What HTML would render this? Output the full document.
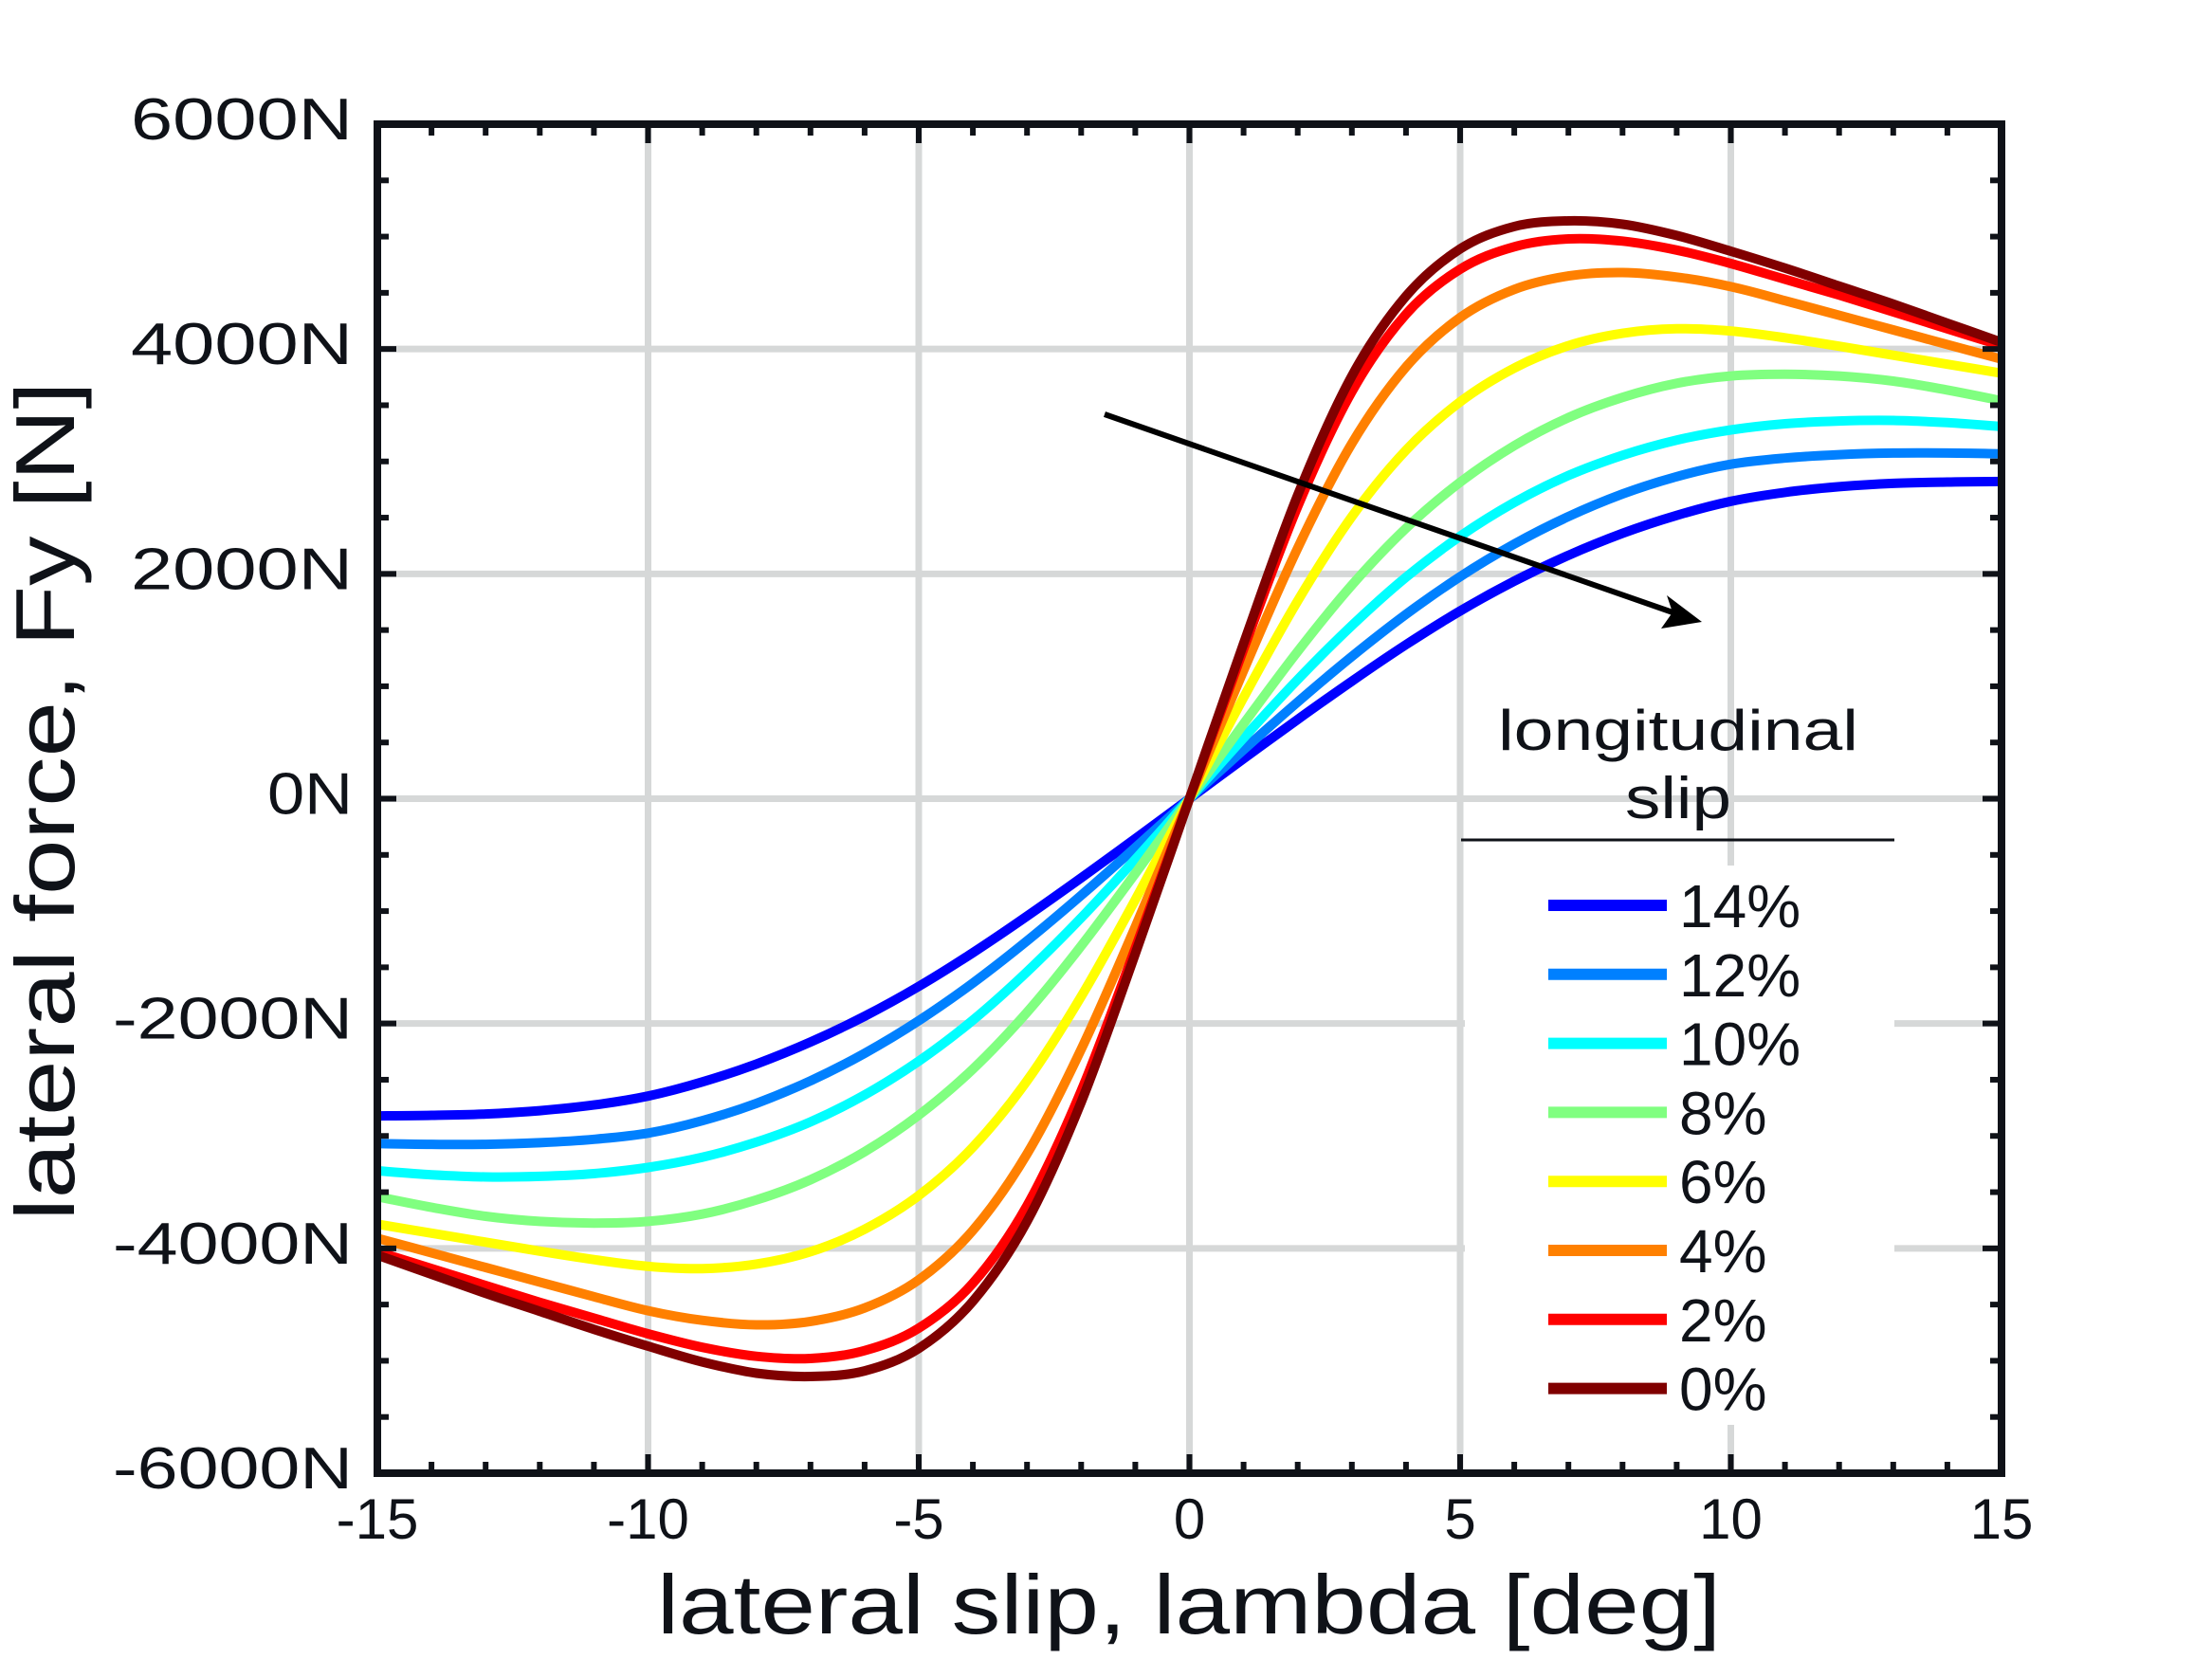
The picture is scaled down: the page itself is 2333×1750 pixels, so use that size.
<!DOCTYPE html>
<html><head><meta charset="utf-8"><style>
html,body{margin:0;padding:0;background:#fff;}
svg{display:block;font-family:"Liberation Sans",sans-serif;}
</style></head><body>
<svg id="chart" width="2333" height="1750" viewBox="0 0 2333 1750" xmlns="http://www.w3.org/2000/svg">
<rect x="0" y="0" width="2333" height="1750" fill="#fff"/>
<g id="grid"></g>
<g id="series"></g>
<g id="axes"></g>
<g id="legend"></g>
<line x1="1165" y1="437" x2="1770" y2="648" stroke="#000" stroke-width="6"/>
<polygon points="1795,656 1758,628 1764,646 1752,663" fill="#000"/>
<text x="1254" y="1723" font-size="88" fill="#0f1218" text-anchor="middle" textLength="1122" lengthAdjust="spacingAndGlyphs">lateral slip, lambda [deg]</text>
<text transform="translate(78,845) rotate(-90)" font-size="88" fill="#0f1218" text-anchor="middle" textLength="885" lengthAdjust="spacingAndGlyphs">lateral force, Fy [N]</text>
</svg>
<script>
const xValues = [-15,-14,-13,-12,-11,-10,-9,-8,-7,-6,-5,-4,-3,-2,-1,0,1,2,3,4,5,6,7,8,9,10,11,12,13,14,15];
const s14 = [-2822,-2817,-2805,-2775,-2725,-2645,-2520,-2360,-2165,-1935,-1670,-1370,-1045,-705,-355,0,355,705,1045,1370,1670,1935,2165,2360,2520,2645,2725,2775,2805,2817,2822];
const s12 = [-3067,-3075,-3075,-3060,-3030,-2975,-2865,-2710,-2510,-2265,-1975,-1640,-1265,-860,-435,0,435,860,1265,1640,1975,2265,2510,2710,2865,2975,3030,3060,3075,3075,3067];
const s10 = [-3310,-3345,-3365,-3360,-3335,-3280,-3190,-3055,-2875,-2635,-2335,-1970,-1540,-1060,-540,0,540,1060,1540,1970,2335,2635,2875,3055,3190,3280,3335,3360,3365,3345,3310];
const s8 = [-3540,-3635,-3715,-3760,-3775,-3760,-3695,-3570,-3390,-3140,-2815,-2405,-1900,-1310,-665,0,665,1310,1900,2405,2815,3140,3390,3570,3695,3760,3775,3760,3715,3635,3540];
const s6 = [-3785,-3865,-3945,-4025,-4100,-4160,-4180,-4140,-4030,-3830,-3530,-3100,-2510,-1760,-900,0,900,1760,2510,3100,3530,3830,4030,4140,4180,4160,4100,4025,3945,3865,3785];
const s4 = [-3910,-4040,-4170,-4300,-4430,-4555,-4640,-4680,-4650,-4530,-4280,-3840,-3160,-2230,-1140,0,1140,2230,3160,3840,4280,4530,4650,4680,4640,4555,4430,4300,4170,4040,3910];
const s2 = [-4030,-4180,-4330,-4480,-4620,-4760,-4880,-4960,-4980,-4910,-4710,-4310,-3620,-2600,-1330,0,1330,2600,3620,4310,4710,4910,4980,4960,4880,4760,4620,4480,4330,4180,4030];
const s0 = [-4060,-4230,-4400,-4560,-4720,-4870,-5010,-5110,-5140,-5090,-4890,-4470,-3760,-2700,-1380,0,1380,2700,3760,4470,4890,5090,5140,5110,5010,4870,4720,4560,4400,4230,4060];
const seriesLabels = ["14%","12%","10%","8%","6%","4%","2%","0%"];
const seriesColors = ["#0000ff","#0080ff","#00ffff","#80ff80","#ffff00","#ff8000","#ff0000","#800000"];
const xTicks = [-15,-10,-5,0,5,10,15];
const xTickLabels = ["-15","-10","-5","0","5","10","15"];
const yTicks = [-6000,-4000,-2000,0,2000,4000,6000];
const yTickLabels = ["-6000N","-4000N","-2000N","0N","2000N","4000N","6000N"];

const NS="http://www.w3.org/2000/svg";
const L=398,R=2111,T=131,B=1554;
const X0=-15,X1=15,Y0=-6000,Y1=6000;
function sx(v){return L+(v-X0)/(X1-X0)*(R-L);}
function sy(v){return B-(v-Y0)/(Y1-Y0)*(B-T);}
function mk(tag,attrs,parent){const e=document.createElementNS(NS,tag);for(const k in attrs)e.setAttribute(k,attrs[k]);parent.appendChild(e);return e;}

const grid=document.getElementById('grid');
xTicks.forEach(v=>{ if(v===X0||v===X1)return;
  const g=mk('line',{x1:sx(v),x2:sx(v),y1:T,y2:B,stroke:'#d6d8d8','stroke-width':7},grid);
  
  
});
yTicks.forEach(v=>{ if(v===Y0||v===Y1)return;
  const g=mk('line',{x1:L,x2:R,y1:sy(v),y2:sy(v),stroke:'#d6d8d8','stroke-width':7},grid);
  
  
});

const sg=document.getElementById('series');
const allSeries=[s14,s12,s10,s8,s6,s4,s2,s0];
allSeries.forEach((s,i)=>{
  const p=xValues.map((x,j)=>[sx(x),sy(s[j])]);
  let d='M'+p[0][0].toFixed(1)+','+p[0][1].toFixed(1);
  for(let j=0;j<p.length-1;j++){
    const p0=p[Math.max(0,j-1)],p1=p[j],p2=p[j+1],p3=p[Math.min(p.length-1,j+2)];
    const c1=[p1[0]+(p2[0]-p0[0])/6,p1[1]+(p2[1]-p0[1])/6];
    const c2=[p2[0]-(p3[0]-p1[0])/6,p2[1]-(p3[1]-p1[1])/6];
    d+=' C'+c1[0].toFixed(1)+','+c1[1].toFixed(1)+' '+c2[0].toFixed(1)+','+c2[1].toFixed(1)+' '+p2[0].toFixed(1)+','+p2[1].toFixed(1);
  }
  const path=mk('path',{d:d,fill:'none',stroke:seriesColors[i],'stroke-width':10,'stroke-linejoin':'round'},sg);
  
  
});

const ax=document.getElementById('axes');
for(let v=X0;v<=X1;v++){
  const major=v%5===0; const len=major?20:12;
  const t1=mk('line',{x1:sx(v),x2:sx(v),y1:B,y2:B-len,stroke:'#0f1218','stroke-width':6},ax);
  
  
  const t2=mk('line',{x1:sx(v),x2:sx(v),y1:T,y2:T+len,stroke:'#0f1218','stroke-width':6},ax);
  
  
}
for(let v=Y0;v<=Y1;v+=500){
  const major=v%2000===0; const len=major?20:12;
  const t1=mk('line',{x1:L,x2:L+len,y1:sy(v),y2:sy(v),stroke:'#0f1218','stroke-width':6},ax);
  
  
  const t2=mk('line',{x1:R,x2:R-len,y1:sy(v),y2:sy(v),stroke:'#0f1218','stroke-width':6},ax);
  
  
}
const frame=mk('rect',{x:L,y:T,width:R-L,height:B-T,fill:'none',stroke:'#0f1218','stroke-width':8},ax);


xTicks.forEach((v,i)=>{
  const t=mk('text',{x:sx(v),y:1623,'font-size':60,fill:'#0f1218','text-anchor':'middle'},ax);
  t.textContent=xTickLabels[i];
  
  
});
yTicks.forEach((v,i)=>{
  const lab=yTickLabels[i];
  const w=lab.startsWith('-')?253:(lab.length===2?90:234);
  const t=mk('text',{x:372,y:sy(v)+16,'font-size':62,fill:'#0f1218','text-anchor':'end',textLength:w,lengthAdjust:'spacingAndGlyphs'},ax);
  t.textContent=lab;
  
  
});

const lg=document.getElementById('legend');
const bx=mk('rect',{x:1545,y:913,width:453,height:590,fill:'#fff'},lg);


const lt1=mk('text',{x:1770,y:791,'font-size':60,fill:'#0f1218','text-anchor':'middle',textLength:380,lengthAdjust:'spacingAndGlyphs'},lg);
lt1.textContent='longitudinal';


const lt2=mk('text',{x:1770,y:863,'font-size':62,fill:'#0f1218','text-anchor':'middle',textLength:112,lengthAdjust:'spacingAndGlyphs'},lg);
lt2.textContent='slip';


const sep=mk('line',{x1:1541,x2:1998,y1:886,y2:886,stroke:'#0f1218','stroke-width':3},lg);


seriesLabels.forEach((lab,i)=>{
  const y=955+i*72.8;
  const ln=mk('line',{x1:1633,x2:1758,y1:y,y2:y,stroke:seriesColors[i],'stroke-width':12},lg);
  
  
  const t=mk('text',{x:1771,y:y+23,'font-size':64,fill:'#0f1218'},lg);
  t.textContent=lab;
  
  
});
</script>
</body></html>
